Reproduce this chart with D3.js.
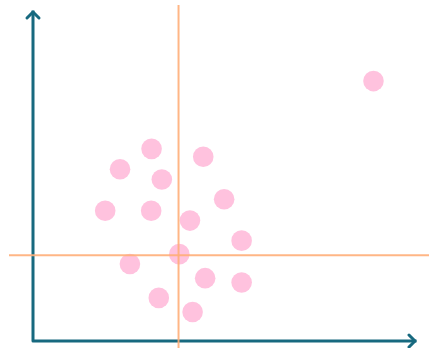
<!DOCTYPE html>
<html>
<head>
<meta charset="utf-8">
<script src="https://cdn.jsdelivr.net/npm/d3@7"></script>
<style>
  html, body { margin: 0; padding: 0; background: #ffffff; }
  svg { display: block; }
</style>
</head>
<body>
<svg id="chart" width="429" height="348"></svg>
<script>
// Point positions (arbitrary units, 0–100 on both axes)
const xValues = [89.6, 31.2, 44.8, 22.9, 33.9, 50.3, 19.0, 31.1, 41.3, 54.9, 38.5, 25.5, 45.3, 54.9, 33.1, 42.0];
const yValues = [79.0, 58.4, 56.0, 52.2, 49.1, 43.1, 39.6, 39.6, 36.6, 30.5, 26.4, 23.4, 19.1, 17.8, 13.1, 8.8];

// Reference lines crossing the cloud
const crossX = [38.3];
const crossY = [26.1];

const width = 429, height = 348;
const svg = d3.select("#chart");

const x = d3.scaleLinear().domain([0, 100]).range([33, 413]);
const y = d3.scaleLinear().domain([0, 100]).range([341, 12]);

const axisColor = "#17697f";
const pointColor = "#ffc2de";
const lineColor = "#ffae78";

const points = xValues.map((v, i) => ({ x: v, y: yValues[i] }));

// points
svg.append("g")
  .selectAll("circle")
  .data(points)
  .join("circle")
  .attr("cx", d => x(d.x))
  .attr("cy", d => y(d.y))
  .attr("r", 10.3)
  .attr("fill", pointColor);

// axes with open arrowheads
const axes = svg.append("g")
  .attr("fill", "none")
  .attr("stroke", axisColor)
  .attr("stroke-width", 3)
  .attr("stroke-linecap", "round")
  .attr("stroke-linejoin", "round");

const x0 = x(0), y0 = y(0), xEnd = x(100) + 2, yTop = y(100);
axes.append("path")
  .attr("d", `M${x0},${yTop} L${x0},${y0} L${xEnd},${y0}`)
  .attr("stroke-linecap", "square");
axes.append("path")
  .attr("d", `M${x0 - 6},${yTop + 6} L${x0},${yTop} L${x0 + 6},${yTop + 6}`);
axes.append("path")
  .attr("d", `M${xEnd - 6},${y0 - 6} L${xEnd},${y0} L${xEnd - 6},${y0 + 6}`);

// crosshair
const cross = svg.append("g")
  .attr("stroke", lineColor)
  .attr("stroke-width", 2)
  .attr("stroke-opacity", 0.9);
cross.selectAll("line.v")
  .data(crossX)
  .join("line")
  .attr("class", "v")
  .attr("x1", d => x(d)).attr("x2", d => x(d))
  .attr("y1", 5).attr("y2", height);
cross.selectAll("line.h")
  .data(crossY)
  .join("line")
  .attr("class", "h")
  .attr("y1", d => y(d)).attr("y2", d => y(d))
  .attr("x1", 9).attr("x2", width);
</script>
</body>
</html>
